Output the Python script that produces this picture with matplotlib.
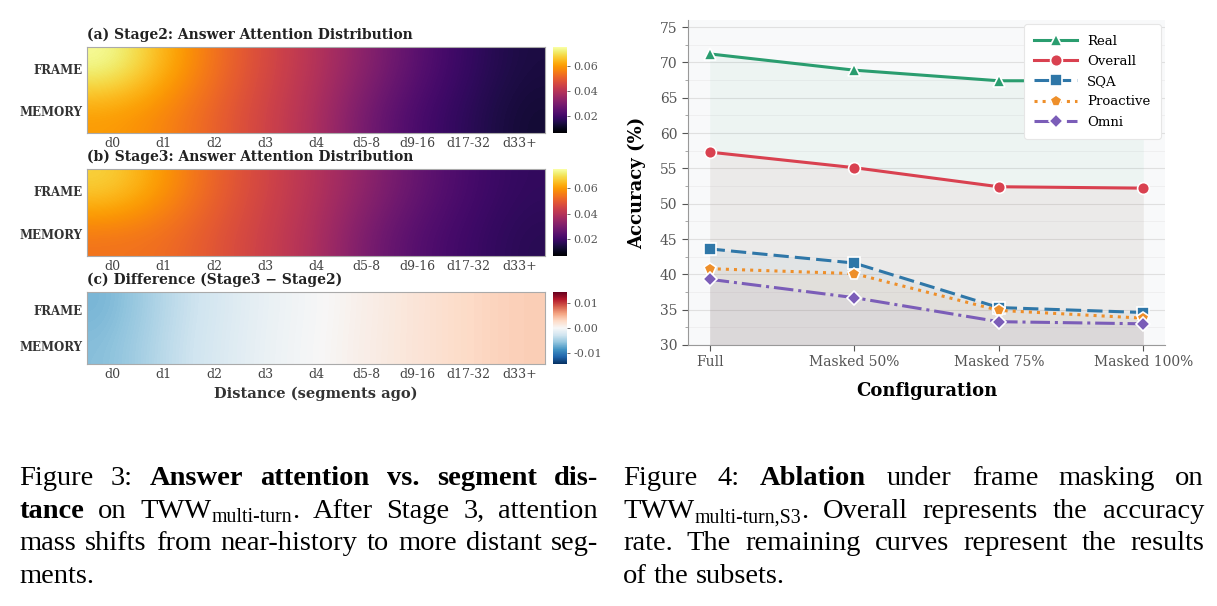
import matplotlib
matplotlib.use("Agg")
import matplotlib.pyplot as plt
import numpy as np
from matplotlib.ticker import MultipleLocator

W_PX, H_PX = 1217, 606

# ---- heatmap data (answer attention share per distance bucket) ----
distance_labels = ["d0", "d1", "d2", "d3", "d4", "d5-8", "d9-16", "d17-32", "d33+"]
row_labels = ["FRAME", "MEMORY"]
stage2_frame = [0.0752, 0.0640, 0.0540, 0.0460, 0.0400, 0.0320, 0.0240, 0.0180, 0.0140]
stage2_memory = [0.0600, 0.0570, 0.0510, 0.0445, 0.0385, 0.0280, 0.0210, 0.0165, 0.0125]
stage3_frame = [0.0684, 0.0600, 0.0515, 0.0450, 0.0398, 0.0329, 0.0259, 0.0209, 0.0176]
stage3_memory = [0.0538, 0.0532, 0.0487, 0.0436, 0.0384, 0.0290, 0.0229, 0.0194, 0.0161]

# ---- ablation data ----
configs = ["Full", "Masked 50%", "Masked 75%", "Masked 100%"]
acc_real = [71.2, 68.9, 67.4, 67.4]
acc_overall = [57.3, 55.1, 52.4, 52.2]
acc_sqa = [43.6, 41.6, 35.3, 34.6]
acc_proactive = [40.8, 40.1, 34.9, 33.8]
acc_omni = [39.3, 36.7, 33.3, 33.0]

plt.rcParams.update({
    "font.family": "DejaVu Serif",
    "axes.unicode_minus": False,
})

fig = plt.figure(figsize=(W_PX / 100, H_PX / 100), dpi=100)


def px_box(x0, y0, x1, y1):
    return [x0 / W_PX, 1 - y1 / H_PX, (x1 - x0) / W_PX, (y1 - y0) / H_PX]


def draw_heatmap(box, cbox, data, cmap, vmin, vmax, title, ticks, fmt, xlabel=None):
    ax = fig.add_axes(px_box(*box))
    im = ax.imshow(np.array(data), cmap=cmap, vmin=vmin, vmax=vmax,
                   aspect="auto", interpolation="bicubic")
    ax.set_xticks(range(len(distance_labels)))
    ax.set_xticklabels(distance_labels, fontsize=9, color="#444444")
    ax.set_yticks(range(len(row_labels)))
    ax.set_yticklabels(row_labels, fontsize=8.5, fontweight="bold", color="#333333")
    ax.tick_params(length=0, pad=3)
    for sp in ax.spines.values():
        sp.set_color("#aaaaaa")
        sp.set_linewidth(0.8)
    ax.set_title(title, loc="left", fontsize=10, fontweight="bold", pad=6, color="#222222")
    if xlabel:
        ax.set_xlabel(xlabel, fontsize=10.5, fontweight="bold", color="#333333", labelpad=4)
    cax = fig.add_axes(px_box(*cbox))
    cb = fig.colorbar(im, cax=cax, ticks=ticks)
    cb.outline.set_visible(False)
    cb.ax.set_yticklabels([fmt.format(t) for t in ticks])
    cb.ax.tick_params(labelsize=8, colors="#555555", length=2.5, width=0.6, pad=2)
    return ax


stage2 = [stage2_frame, stage2_memory]
stage3 = [stage3_frame, stage3_memory]
diff = (np.array(stage3) - np.array(stage2)).tolist()

att_vmin, att_vmax = 0.0062, 0.0755
draw_heatmap((87, 47, 545, 133), (553, 47, 567, 133), stage2, "inferno", att_vmin, att_vmax,
             "(a) Stage2: Answer Attention Distribution", [0.02, 0.04, 0.06], "{:.2f}")
draw_heatmap((87, 169, 545, 256), (553, 169, 567, 256), stage3, "inferno", att_vmin, att_vmax,
             "(b) Stage3: Answer Attention Distribution", [0.02, 0.04, 0.06], "{:.2f}")
draw_heatmap((87, 292, 545, 364), (553, 292, 567, 364), diff, "RdBu_r", -0.0145, 0.0145,
             "(c) Difference (Stage3 \u2212 Stage2)", [-0.01, 0.0, 0.01], "{:.2f}",
             xlabel="Distance (segments ago)")

# ---- ablation line chart ----
ax = fig.add_axes(px_box(688, 20, 1165, 345))
ax.set_facecolor("#f8f9fa")
x = np.arange(len(configs))
series = [
    ("Real", acc_real, "#2A9D6F", "-", "^", 8.5),
    ("Overall", acc_overall, "#D94150", "-", "o", 8.5),
    ("SQA", acc_sqa, "#2F77A8", (0, (5, 2)), "s", 8),
    ("Proactive", acc_proactive, "#EE8F2A", ":", "p", 8.5),
    ("Omni", acc_omni, "#7B5DB8", "-.", "D", 7.5),
]
ymin = 30
for name, vals, color, ls, marker, ms in series:
    ax.fill_between(x, vals, ymin, color=color, alpha=0.05, linewidth=0, zorder=1)
for name, vals, color, ls, marker, ms in series:
    ax.plot(x, vals, color=color, linestyle=ls, linewidth=2.2, marker=marker,
            markersize=ms, markeredgecolor="white", markeredgewidth=1.2,
            label=name, zorder=3)

ax.set_xlim(-0.15, 3.15)
ax.set_ylim(30, 76)
ax.set_xticks(x)
ax.set_xticklabels(configs)
ax.yaxis.set_major_locator(MultipleLocator(5))
ax.yaxis.set_minor_locator(MultipleLocator(2.5))
ax.grid(True, axis="y", which="major", color="#e0e0e0", linewidth=0.8, zorder=0)
ax.grid(True, axis="y", which="minor", color="#ececec", linewidth=0.5, zorder=0)
ax.set_axisbelow(True)
for side in ("top", "right"):
    ax.spines[side].set_visible(False)
for side in ("left", "bottom"):
    ax.spines[side].set_color("#999999")
    ax.spines[side].set_linewidth(0.8)
ax.tick_params(axis="both", which="major", labelsize=10, colors="#555555",
               length=4, width=0.8)
ax.tick_params(axis="y", which="minor", length=2, width=0.6, colors="#999999")
ax.set_ylabel("Accuracy (%)", fontsize=13, fontweight="bold", labelpad=10)
ax.set_xlabel("Configuration", fontsize=13, fontweight="bold", labelpad=9)
leg = ax.legend(loc="upper right", fontsize=9.5, frameon=True, framealpha=1,
                edgecolor="#e6e6e6", facecolor="white", handlelength=3.2,
                labelspacing=0.55, borderpad=0.8, borderaxespad=0.3)
leg.get_frame().set_linewidth(0.8)

# ---- captions (justified, Times-like) ----
cap_left = [
    [("Figure 3:", "r"), (" Answer attention vs. segment dis-", "b")],
    [("tance", "b"), (" on TWW", "r"), ("multi-turn", "sub"), (". After Stage 3, attention", "r")],
    [("mass shifts from near-history to more distant seg-", "r")],
    [("ments.", "r")],
]
cap_right = [
    [("Figure 4:", "r"), (" Ablation", "b"), (" under frame masking on", "r")],
    [("TWW", "r"), ("multi-turn,S3", "sub"), (". Overall represents the accuracy", "r")],
    [("rate. The remaining curves represent the results", "r")],
    [("of the subsets.", "r")],
]
cap_baselines = [485, 517.5, 550, 583]
renderer = fig.canvas.get_renderer()
CAP_FONT = "Liberation Serif"
CAP_SIZE = 20.5


def split_words(segments):
    words = [[]]
    for text, style in segments:
        parts = text.split(" ")
        for i, part in enumerate(parts):
            if i > 0 and words[-1]:
                words.append([])
            if part:
                words[-1].append((part, style))
    return [w for w in words if w]


def make_run(text, style):
    size = CAP_SIZE * 0.7 if style == "sub" else CAP_SIZE
    weight = "bold" if style == "b" else "normal"
    return fig.text(0, 0, text, fontsize=size, fontweight=weight, family=CAP_FONT,
                    va="baseline", ha="left", color="black")


def draw_caption(lines, x0, x1):
    t1 = make_run(" x", "r")
    t2 = make_run("x", "r")
    space_w = t1.get_window_extent(renderer).width - t2.get_window_extent(renderer).width
    t1.remove()
    t2.remove()
    for li, segs in enumerate(lines):
        words = split_words(segs)
        runs = []
        widths = []
        for w in words:
            rr = []
            total = 0
            for text, style in w:
                t = make_run(text, style)
                wd = t.get_window_extent(renderer).width
                rr.append((t, style, wd))
                total += wd
            runs.append(rr)
            widths.append(total)
        last = li == len(lines) - 1
        if last or len(words) < 2:
            gap = space_w
        else:
            gap = (x1 - x0 - sum(widths)) / (len(words) - 1)
        xp = x0
        yb = cap_baselines[li]
        for rr, wd in zip(runs, widths):
            xr = xp
            for t, style, w in rr:
                dy = 5 if style == "sub" else 0
                t.set_position((xr / W_PX, 1 - (yb + dy) / H_PX))
                xr += w
            xp += wd + gap


draw_caption(cap_left, 19, 598)
draw_caption(cap_right, 623, 1204)

fig.savefig("out.png", dpi=100)
